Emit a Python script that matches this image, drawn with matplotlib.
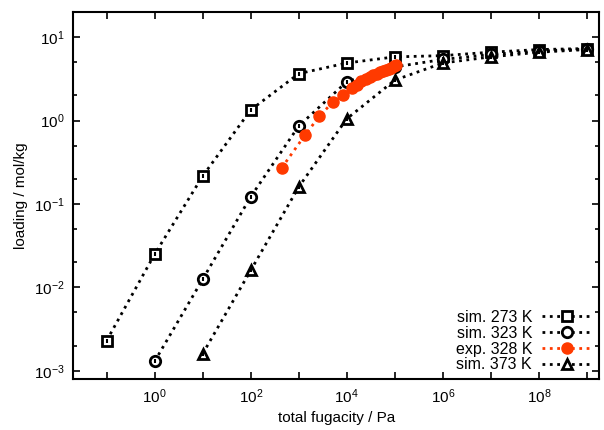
import math
import matplotlib
matplotlib.use("Agg")
import matplotlib.pyplot as plt
from matplotlib.ticker import FixedLocator, FuncFormatter, LogLocator, NullLocator

plt.rcParams["font.family"] = ["Liberation Sans", "DejaVu Sans"]

# simulated isotherms (fugacity in Pa, loading in mol/kg)
f_273 = [1e-1, 1e0, 1e1, 1e2, 1e3, 1e4, 1e5, 1e6, 1e7, 1e8, 1e9]
q_273 = [2.3e-3, 0.025, 0.216, 1.34, 3.65, 4.9, 5.8, 6.0, 6.6, 7.1, 7.3]

f_323 = [1e0, 1e1, 1e2, 1e3, 1e4, 1e5, 1e6, 1e7, 1e8, 1e9]
q_323 = [1.3e-3, 0.0125, 0.122, 0.86, 2.92, 4.4, 5.4, 6.2, 6.8, 7.2]

f_373 = [1e1, 1e2, 1e3, 1e4, 1e5, 1e6, 1e7, 1e8, 1e9]
q_373 = [1.6e-3, 0.016, 0.16, 1.05, 3.05, 4.9, 5.8, 6.6, 7.1]

# experimental isotherm
f_exp = [440, 1350, 2700, 5100, 8500, 12700, 16000, 20000, 25000, 30000,
         36000, 42000, 50000, 58000, 66000, 75000, 85000, 95000, 105000]
q_exp = [0.27, 0.67, 1.13, 1.66, 2.0, 2.45, 2.7, 2.95, 3.15, 3.35,
         3.5, 3.65, 3.8, 3.95, 4.05, 4.2, 4.3, 4.45, 4.6]

orange = "#ff3a00"

fig = plt.figure(figsize=(6.04, 4.30), dpi=100)
ax = fig.add_axes([0.121, 0.119, 0.871, 0.853])

sims = [(f_273, q_273, "s", "sim. 273 K"),
        (f_323, q_323, "o", "sim. 323 K"),
        (f_373, q_373, "^", "sim. 373 K")]

handles = {}
for f, q, m, lab in sims:
    h, = ax.plot(f, q, ls=":", lw=2, color="black", marker=m, ms=7.5,
                 mfc="white", mec="black", mew=2, label=lab)
    # small error-bar tick inside each symbol
    ax.plot(f, q, ls="none", marker="|", ms=3.5, mew=1.5, color="black")
    handles[lab] = h

h_exp, = ax.plot(f_exp, q_exp, ls=":", lw=2, color=orange, marker="o", ms=8,
                 mfc=orange, mec=orange, label="exp. 328 K")

ax.set_xscale("log")
ax.set_yscale("log")
ax.set_xlim(0.02, 1.8e9)
ax.set_ylim(8e-4, 20)

ax.xaxis.set_major_locator(FixedLocator([10.0 ** e for e in range(-1, 10)]))
ax.xaxis.set_minor_locator(NullLocator())


def xfmt(v, pos):
    e = int(round(math.log10(v)))
    return r"$\mathregular{10^{%d}}$" % e if e % 2 == 0 else ""


def yfmt(v, pos):
    e = int(round(math.log10(v)))
    return r"$\mathregular{10^{%d}}$" % e


ax.xaxis.set_major_formatter(FuncFormatter(xfmt))
ax.yaxis.set_major_locator(FixedLocator([10.0 ** e for e in range(-3, 2)]))
ax.yaxis.set_major_formatter(FuncFormatter(yfmt))
ax.yaxis.set_minor_locator(LogLocator(base=10, subs=(2.0, 5.0)))

ax.tick_params(which="both", direction="in", top=True, right=True,
               labelsize=11, width=1.2)
ax.tick_params(which="major", length=5, pad=6)
ax.tick_params(which="minor", length=3)
for s in ax.spines.values():
    s.set_linewidth(1.5)

ax.set_xlabel("total fugacity / Pa", fontsize=11)
ax.set_ylabel("loading / mol/kg", fontsize=11)

order = [handles["sim. 273 K"], handles["sim. 323 K"], h_exp, handles["sim. 373 K"]]
ax.legend(handles=order, loc="lower right", frameon=False, markerfirst=False,
          fontsize=11.5, handlelength=3.2, labelspacing=0.05, borderaxespad=0.2,
          borderpad=0.2, handletextpad=0.6, numpoints=1)

fig.savefig("out.png", dpi=100)
plt.close(fig)
